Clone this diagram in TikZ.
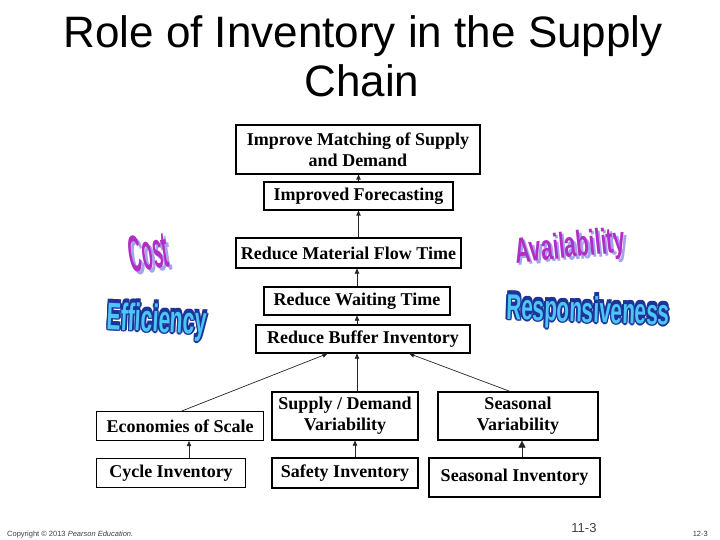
\documentclass[tikz,border=0pt]{standalone}
\usepackage{fontspec}
\setmainfont{Liberation Serif}
\newfontfamily\titlefont{Liberation Sans}
\usetikzlibrary{arrows.meta,calc}

\definecolor{artpurple}{HTML}{B22CC6}
\definecolor{artshade}{HTML}{A4A4EC}
\definecolor{artsky}{HTML}{4CC6F6}
\definecolor{artnavy}{HTML}{1C3498}

\begin{document}
\begin{tikzpicture}[x=1pt,y=-1pt,
    >={Triangle[length=5pt,width=4.5pt]},
    box/.style={draw,line width=1.2pt,inner sep=0pt,align=center,
                font=\bfseries\fontsize{18}{21}\selectfont},
    link/.style={->,line width=0.7pt,draw=black!85},
    art/.style={inner sep=0pt,font=\titlefont\bfseries\fontsize{24}{24}\selectfont},
    foot/.style={inner sep=0pt,text=black!75,font=\titlefont\fontsize{7.5}{8}\selectfont}]
  \useasboundingbox[fill=white] (0,0) rectangle (720,540);
  % ---- title ----
  \node[anchor=base,inner sep=0pt,font=\titlefont\fontsize{44}{48}\selectfont] (title1) at (363,48) {Role of Inventory in the Supply};
  \node[anchor=base,inner sep=0pt,font=\titlefont\fontsize{44}{48}\selectfont] (title2) at (362,97) {Chain};
  % ---- spine of boxes ----
  \node[box,minimum width=244pt,minimum height=49pt] (match)  at (358,149.5) {Improve Matching of Supply\\and Demand};
  \node[box,minimum width=189pt,minimum height=28pt] (fore)   at (358.5,196) {Improved Forecasting};
  \node[box,minimum width=225pt,minimum height=30pt] (flow)   at (348.5,253) {Reduce Material Flow Time};
  \node[box,minimum width=186pt,minimum height=28pt] (wait)   at (357,301)   {Reduce Waiting Time};
  \node[box,minimum width=214pt,minimum height=28pt] (buffer) at (363,339)   {Reduce Buffer Inventory};
  % ---- drivers ----
  \node[box,minimum width=167pt,minimum height=29pt] (econ)    at (180,426)   {Economies of Scale};
  \node[box,minimum width=146pt,minimum height=48pt] (supdem)  at (345,416)   {Supply / Demand\\Variability};
  \node[box,minimum width=160pt,minimum height=48pt] (seasvar) at (518,416)   {Seasonal\\Variability};
  % ---- inventory types ----
  \node[box,minimum width=149pt,minimum height=29pt] (cycle)  at (171,473)   {Cycle Inventory};
  \node[box,minimum width=146pt,minimum height=30pt] (safety) at (345,473)   {Safety Inventory};
  \node[box,minimum width=171pt,minimum height=39pt] (seasinv) at (514.5,477.5) {Seasonal Inventory};
  % ---- arrows up the spine ----
  \draw[link] (fore.north) -- (fore.north |- match.south);
  \draw[link] (fore.south |- flow.north) -- (fore.south);
  \draw[link] (wait.north) -- (wait.north |- flow.south);
  \draw[link] (wait.south |- buffer.north) -- (wait.south);
  \draw[link] (supdem.north -| wait.south) -- (buffer.south -| wait.south);
  \draw[link] ([xshift=2pt]econ.north) -- ($(buffer.south west)!0.335!(buffer.south east)$);
  \draw[link] ([xshift=-8pt]seasvar.north) -- ($(buffer.south west)!0.715!(buffer.south east)$);
  % ---- inventory types to drivers ----
  \draw[link] ([xshift=18pt]cycle.north) -- ([xshift=18pt]cycle.north |- econ.south);
  \draw[link] ([xshift=10pt]safety.north) -- ([xshift=10pt]safety.north |- supdem.south);
  \draw[link,>={Triangle[length=7pt,width=7pt]}] ([xshift=7.5pt]seasinv.north) -- ([xshift=7.5pt]seasinv.north |- seasvar.south);
  % ---- word art ----
  \node[art,text=artshade,rotate=9] (costsh) at (151.5,255) {\scalebox{0.74}[2.15]{Cost}};
  \node[art,text=artpurple,rotate=9] (cost)  at (148.5,252) {\scalebox{0.74}[2.15]{Cost}};
  \node[art,text=artshade,rotate=6] (availsh) at (573,250.5) {\scalebox{0.88}[1.5]{Availability}};
  \node[art,text=artpurple,rotate=6] (avail) at (570.5,248) {\scalebox{0.88}[1.5]{Availability}};
  \foreach \dx/\dy [count=\i] in {-1/-4,1/-4,0/-3,-1/-1,1/-1,-1/1,1/1,0/1.5,-1.5/0,1.5/0}
    \node[art,text=artnavy,rotate=-3] (effrim\i) at ([shift={(\dx,\dy)}]157,322) {\scalebox{0.88}[1.6]{Efficiency}};
  \node[art,text=artsky,rotate=-3] (eff) at (157,322) {\scalebox{0.88}[1.6]{Efficiency}};
  \foreach \dx/\dy [count=\i] in {-1/-4,1/-4,0/-3,-1/-1,1/-1,-1/1,1/1,0/1.5,-1.5/0,1.5/0}
    \node[art,text=artnavy,rotate=-2] (resprim\i) at ([shift={(\dx,\dy)}]588,313) {\scalebox{0.86}[1.5]{Responsiveness}};
  \node[art,text=artsky,rotate=-2] (resp) at (588,313) {\scalebox{0.86}[1.5]{Responsiveness}};
  % ---- footer ----
  \node[foot,anchor=base west] (copy) at (7,536) {Copyright \textcopyright\ 2013 \textit{Pearson Education.}};
  \node[foot,anchor=base,font=\titlefont\fontsize{13}{14}\selectfont] (page) at (584,532) {11-3};
  \node[foot,anchor=base east] (slide) at (708,536) {12-3};
\end{tikzpicture}
\end{document}
